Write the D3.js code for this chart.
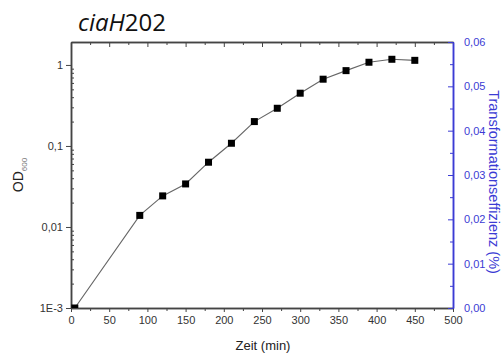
<!DOCTYPE html>
<html>
<head>
<meta charset="utf-8">
<script src="https://cdn.jsdelivr.net/npm/d3@7"></script>
<style>
  body { margin: 0; background: #fff; }
  svg { display: block; }
</style>
</head>
<body>
<div class="chart"></div>
<script>
// growth curve, OD600 vs time
const times = [5, 90, 120, 150, 180, 210, 240, 270, 300, 330, 360, 390, 420, 450];
const od600 = [0.001, 0.0139, 0.0242, 0.034, 0.063, 0.108, 0.2, 0.292, 0.448, 0.667, 0.851, 1.08, 1.175, 1.14];

const xTicks = [0, 50, 100, 150, 200, 250, 300, 350, 400, 450, 500];
const yTicks = [0.001, 0.01, 0.1, 1];
const yTickLabels = ["1E-3", "0,01", "0,1", "1"];
const rightTicks = [0, 0.01, 0.02, 0.03, 0.04, 0.05, 0.06];
const rightTickLabels = ["0,00", "0,01", "0,02", "0,03", "0,04", "0,05", "0,06"];

const W = 504, H = 358;
const margin = {top: 42, right: 51, bottom: 50, left: 71};
const width = W - margin.left - margin.right;
const height = H - margin.top - margin.bottom;
const blue = "#3b3bd4";
const axisCol = "#444";

const svg = d3.select(".chart").append("svg")
    .attr("width", W)
    .attr("height", H);

const g = svg.append("g")
    .attr("transform", `translate(${margin.left},${margin.top})`);

const x = d3.scaleLinear().domain([0, 500]).range([0, width]);
const y = d3.scaleLog().domain([0.001, 1.92]).range([height, 0]);
const yR = d3.scaleLinear().domain([0, 0.06]).range([height, 0]);

const minorX = d3.range(25, 500, 50);
const minorY = [];
[0.001, 0.01, 0.1].forEach(d => { for (let k = 2; k <= 9; k++) minorY.push(d * k); });
const minorR = d3.range(0.005, 0.06, 0.01);

function styleAxis(sel, col){
    sel.select(".domain").attr("stroke", col).attr("stroke-width", 1.5);
    sel.selectAll(".tick line").attr("stroke", col).attr("stroke-width", 1);
    sel.selectAll("text")
        .attr("fill", col)
        .style("font-family", "Liberation Sans, Arial, sans-serif")
        .style("font-size", "11px");
}

// bottom
g.append("g").attr("transform", `translate(0,${height})`)
    .call(d3.axisBottom(x).tickValues(minorX).tickSize(3).tickFormat("").tickSizeOuter(0))
    .call(s => styleAxis(s, axisCol));
g.append("g").attr("transform", `translate(0,${height})`)
    .call(d3.axisBottom(x).tickValues(xTicks).tickSize(4).tickPadding(4).tickSizeOuter(0))
    .call(s => styleAxis(s, axisCol))
    .call(s => s.selectAll("text").attr("fill", "#333"));

// top
g.append("g")
    .call(d3.axisTop(x).tickValues(minorX).tickSize(-3).tickFormat("").tickSizeOuter(0))
    .call(s => styleAxis(s, axisCol));
g.append("g")
    .call(d3.axisTop(x).tickValues(xTicks).tickSize(-5).tickFormat("").tickSizeOuter(0))
    .call(s => styleAxis(s, axisCol));

// left
g.append("g")
    .call(d3.axisRight(y).tickValues(minorY).tickSize(3).tickFormat("").tickSizeOuter(0))
    .call(s => styleAxis(s, axisCol));
g.append("g")
    .call(d3.axisLeft(y).tickValues(yTicks).tickSize(5).tickPadding(3)
        .tickFormat((d, i) => yTickLabels[i]).tickSizeOuter(0))
    .call(s => styleAxis(s, axisCol))
    .call(s => s.selectAll("text").attr("fill", "#333"));

// right
g.append("g").attr("transform", `translate(${width},0)`)
    .call(d3.axisRight(yR).tickValues(minorR).tickSize(-3).tickFormat("").tickSizeOuter(0))
    .call(s => styleAxis(s, blue));
g.append("g").attr("transform", `translate(${width},0)`)
    .call(d3.axisRight(yR).tickValues(rightTicks).tickSize(-5).tickPadding(11)
        .tickFormat((d, i) => rightTickLabels[i]).tickSizeOuter(0))
    .call(s => styleAxis(s, blue));

// data
g.append("clipPath").attr("id", "plotclip")
    .append("rect").attr("width", width).attr("height", height);

const pts = times.map((t, i) => ({t: t, v: od600[i]}));

g.append("path")
    .datum(pts)
    .attr("clip-path", "url(#plotclip)")
    .attr("fill", "none")
    .attr("stroke", "#666")
    .attr("stroke-width", 1.1)
    .attr("d", d3.line().x(d => x(d.t)).y(d => y(d.v)));

g.append("g").attr("clip-path", "url(#plotclip)")
    .selectAll("rect")
    .data(pts)
    .enter()
    .append("rect")
    .attr("x", d => x(d.t) - 3.5)
    .attr("y", d => y(d.v) - 3.5)
    .attr("width", 7)
    .attr("height", 7)
    .attr("fill", "#000");

// title
const title = svg.append("text")
    .attr("x", 78)
    .attr("y", 31)
    .style("font-family", "Open Sans, sans-serif")
    .style("font-size", "24px")
    .attr("fill", "#111");
title.append("tspan").style("font-style", "italic").text("ciaH");
title.append("tspan").text("202");

// axis titles
svg.append("text")
    .attr("x", margin.left + x(250) + 1)
    .attr("y", 350)
    .attr("text-anchor", "middle")
    .style("font-family", "Liberation Sans, Arial, sans-serif")
    .style("font-size", "13px")
    .attr("fill", "#222")
    .text("Zeit (min)");

const yl = svg.append("text")
    .attr("transform", "translate(23,175) rotate(-90)")
    .attr("text-anchor", "middle")
    .style("font-family", "Liberation Sans, Arial, sans-serif")
    .style("font-size", "14px")
    .attr("fill", "#222");
yl.append("tspan").text("OD");
yl.append("tspan").attr("dy", 4).style("font-size", "8px").attr("fill", "#777").text("600");

svg.append("text")
    .attr("transform", "translate(489,182) rotate(90)")
    .attr("text-anchor", "middle")
    .style("font-family", "Liberation Sans, Arial, sans-serif")
    .style("font-size", "14.5px")
    .attr("fill", blue)
    .text("Transformationseffizienz (%)");
</script>
</body>
</html>
